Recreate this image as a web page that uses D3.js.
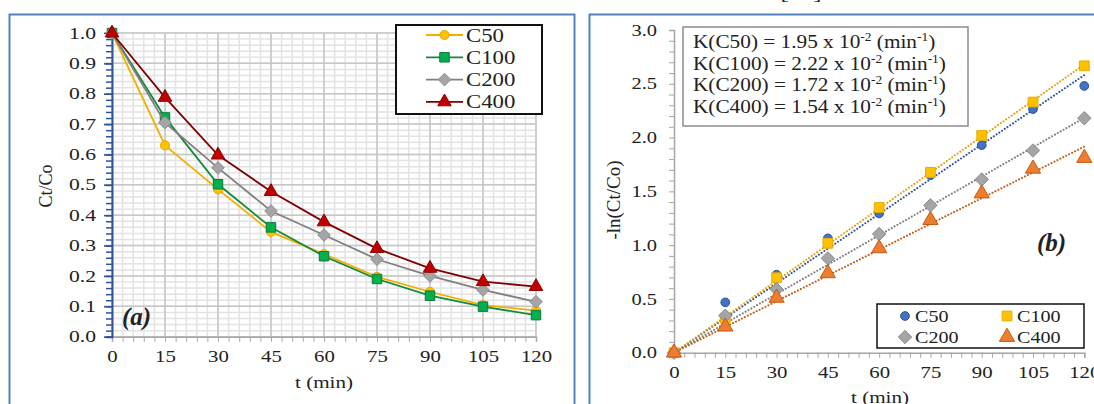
<!DOCTYPE html>
<html lang="en">
<head>
    <meta charset="UTF-8">
    <title>Ct/Co kinetics</title>
    <style>
        body { margin: 0; background: #fff; }
        svg text { font-family: "Liberation Serif", "DejaVu Serif", serif; fill: #222; }
    </style>
</head>
<body>
    <svg width="1094" height="404"></svg>

    <script src="https://cdn.jsdelivr.net/npm/d3@7"></script>
    <script>
        // data
        let times = [0, 15, 30, 45, 60, 75, 90, 105, 120];
        let seriesNames = ["C50", "C100", "C200", "C400"];

        // (a) Ct/Co
        let ctC50  = [1.0, 0.63, 0.485, 0.345, 0.272, 0.197, 0.148, 0.104, 0.086];
        let ctC100 = [1.0, 0.722, 0.502, 0.36, 0.265, 0.19, 0.135, 0.099, 0.071];
        let ctC200 = [1.0, 0.705, 0.556, 0.414, 0.335, 0.255, 0.2, 0.154, 0.115];
        let ctC400 = [1.0, 0.788, 0.598, 0.478, 0.378, 0.29, 0.225, 0.181, 0.165];

        // (b) -ln(Ct/Co)
        let lnC50  = [0, 0.468, 0.725, 1.063, 1.295, 1.65, 1.93, 2.265, 2.48];
        let lnC100 = [0, 0.32, 0.697, 1.017, 1.35, 1.676, 2.02, 2.33, 2.667];
        let lnC200 = [0, 0.344, 0.589, 0.877, 1.103, 1.37, 1.61, 1.88, 2.18];
        let lnC400 = [0, 0.242, 0.51, 0.738, 0.97, 1.233, 1.48, 1.71, 1.81];

        let kLabels = ["1.95", "2.22", "1.72", "1.54"];

        let xTicks = [0, 15, 30, 45, 60, 75, 90, 105, 120];
        let yTicksA = [0, 0.1, 0.2, 0.3, 0.4, 0.5, 0.6, 0.7, 0.8, 0.9, 1.0];
        let yTicksB = [0, 0.5, 1.0, 1.5, 2.0, 2.5, 3.0];

        let svg = d3.select("svg");

        // the source picture is a bit stretched sideways, so widen text the same way
        function stretch(sel, sx) {
            sel.each(function () {
                let t = d3.select(this);
                let x = +t.attr("x") || 0;
                let y = +t.attr("y") || 0;
                t.attr("transform", "translate(" + x + "," + y + ") scale(" + sx + ",1)")
                    .attr("x", 0).attr("y", 0);
            });
        }

        // panel frames
        svg.append("rect").attr("x", 9.5).attr("y", 14.5).attr("width", 565).attr("height", 420)
            .attr("fill", "none").attr("stroke", "#4f81bd").attr("stroke-width", 2);
        svg.append("rect").attr("x", 589.5).attr("y", 14.5).attr("width", 540).attr("height", 420)
            .attr("fill", "none").attr("stroke", "#4f81bd").attr("stroke-width", 2);

        // reference number cut off at the very top
        let ref = svg.append("text").attr("x", 801).attr("y", -1).attr("text-anchor", "middle")
            .style("font-size", "19px").text("[43]");
        stretch(ref, 1.3);

        let diamond = { draw: function (ctx, size) {
            let r = Math.sqrt(size / 2);
            ctx.moveTo(0, -r); ctx.lineTo(r, 0); ctx.lineTo(0, r); ctx.lineTo(-r, 0); ctx.closePath();
        } };

        // ---------------- panel (a) ----------------
        let xa = d3.scaleLinear().domain([0, 120]).range([112, 536]);
        let ya = d3.scaleLinear().domain([0, 1]).range([336.7, 33]);

        let gA = svg.append("g");

        // minor grid
        gA.append("g").selectAll("line").data(d3.range(0, 121, 3)).join("line")
            .attr("x1", d => xa(d)).attr("x2", d => xa(d)).attr("y1", ya(0)).attr("y2", ya(1))
            .attr("stroke", "#e3e3e3").attr("stroke-width", 1.5);
        gA.append("g").selectAll("line").data(d3.range(0, 51).map(d => d * 0.02)).join("line")
            .attr("x1", xa(0)).attr("x2", xa(120)).attr("y1", d => ya(d)).attr("y2", d => ya(d))
            .attr("stroke", "#e3e3e3").attr("stroke-width", 1.5);
        // major grid
        gA.append("g").selectAll("line").data(xTicks).join("line")
            .attr("x1", d => xa(d)).attr("x2", d => xa(d)).attr("y1", ya(0)).attr("y2", ya(1))
            .attr("stroke", "#c6c6c6").attr("stroke-width", 1.5);
        gA.append("g").selectAll("line").data(yTicksA).join("line")
            .attr("x1", xa(0) - 8).attr("x2", xa(120)).attr("y1", d => ya(d)).attr("y2", d => ya(d))
            .attr("stroke", "#c6c6c6").attr("stroke-width", 1.5);

        // x axis (a)
        let xAxisMinorA = gA.append("g").attr("transform", "translate(0," + ya(0) + ")")
            .call(d3.axisBottom(xa).tickValues(d3.range(0, 121, 3)).tickSize(5).tickFormat(""));
        xAxisMinorA.select(".domain").attr("stroke", "#a6a6a6").attr("stroke-width", 1.5);
        xAxisMinorA.selectAll(".tick line").attr("stroke", "#a6a6a6");
        let xAxisA = gA.append("g").attr("transform", "translate(0," + ya(0) + ")")
            .call(d3.axisBottom(xa).tickValues(xTicks).tickSize(0).tickPadding(14));
        xAxisA.select(".domain").remove();
        xAxisA.selectAll("text").style("font-size", "16px").style("font-family", "Liberation Serif").attr("fill", "#222");
        stretch(xAxisA.selectAll("text"), 1.3);

        // y axis (a)
        let yAxisMinorA = gA.append("g").attr("transform", "translate(" + xa(0) + ",0)")
            .call(d3.axisLeft(ya).tickValues(d3.range(0, 51).map(d => d * 0.02)).tickSize(6).tickFormat(""));
        yAxisMinorA.select(".domain").attr("stroke", "#2f5597").attr("stroke-width", 2);
        yAxisMinorA.selectAll(".tick line").attr("stroke", "#2f5597").attr("stroke-width", 1.5);
        let yAxisA = gA.append("g").attr("transform", "translate(" + xa(0) + ",0)")
            .call(d3.axisLeft(ya).tickValues(yTicksA).tickSize(8).tickPadding(8).tickFormat(d3.format(".1f")));
        yAxisA.select(".domain").remove();
        yAxisA.selectAll(".tick line").attr("stroke", "#2f5597").attr("stroke-width", 1.5);
        yAxisA.selectAll("text").style("font-size", "16px").style("font-family", "Liberation Serif").attr("fill", "#222");
        stretch(yAxisA.selectAll("text"), 1.35);

        let tA = gA.append("text").attr("x", 324).attr("y", 388).attr("text-anchor", "middle")
            .style("font-size", "16.5px").text("t (min)");
        stretch(tA, 1.28);
        gA.append("text").attr("transform", "translate(52,186) rotate(-90)").attr("text-anchor", "middle")
            .style("font-size", "18px").text("Ct/Co");

        let styleA = [
            { line: "#f0b000", fill: "#ffc000", stroke: "#e6a800", shape: d3.symbolCircle, size: 64 },
            { line: "#138a3c", fill: "#00b050", stroke: "#0e7a35", shape: d3.symbolSquare, size: 90 },
            { line: "#808080", fill: "#a5a5a5", stroke: "#8c8c8c", shape: diamond, size: 80 },
            { line: "#7f0000", fill: "#c00000", stroke: "#8b0000", shape: d3.symbolTriangle, size: 80 }
        ];
        let dataA = [ctC50, ctC100, ctC200, ctC400];
        let lineA = d3.line().x((d, i) => xa(times[i])).y(d => ya(d));

        dataA.forEach(function (vals, k) {
            let s = styleA[k];
            gA.append("path").attr("d", lineA(vals)).attr("fill", "none")
                .attr("stroke", s.line).attr("stroke-width", 1.8);
            gA.append("g").selectAll("path").data(vals).join("path")
                .attr("transform", (d, i) => "translate(" + xa(times[i]) + "," + ya(d) + ")")
                .attr("d", d3.symbol().type(s.shape).size(s.size))
                .attr("fill", s.fill).attr("stroke", s.stroke).attr("stroke-width", 1);
        });

        // legend (a)
        let legA = gA.append("g");
        legA.append("rect").attr("x", 396).attr("y", 25).attr("width", 146).attr("height", 89)
            .attr("fill", "#fff").attr("stroke", "#111").attr("stroke-width", 2);
        seriesNames.forEach(function (name, k) {
            let s = styleA[k];
            let cy = 35 + k * 22.3;
            legA.append("line").attr("x1", 426).attr("x2", 463).attr("y1", cy).attr("y2", cy)
                .attr("stroke", s.line).attr("stroke-width", 1.8);
            legA.append("path").attr("transform", "translate(444.5," + cy + ")")
                .attr("d", d3.symbol().type(s.shape).size(s.size))
                .attr("fill", s.fill).attr("stroke", s.stroke);
            let lt = legA.append("text").attr("x", 466).attr("y", cy + 6.5).style("font-size", "19px").text(name);
            stretch(lt, 1.2);
        });

        gA.append("text").attr("x", 122).attr("y", 325).style("font-size", "25px")
            .style("font-weight", "bold").style("font-style", "italic").text("(a)");

        // ---------------- panel (b) ----------------
        let xb = d3.scaleLinear().domain([0, 120]).range([674, 1084.3]);
        let yb = d3.scaleLinear().domain([0, 3]).range([352.7, 30]);

        let gB = svg.append("g");

        let xAxisMinorB = gB.append("g").attr("transform", "translate(0," + yb(0) + ")")
            .call(d3.axisBottom(xb).tickValues(d3.range(0, 121, 3)).tickSize(5).tickFormat(""));
        xAxisMinorB.select(".domain").attr("stroke", "#a6a6a6").attr("stroke-width", 1.5);
        xAxisMinorB.selectAll(".tick line").attr("stroke", "#a6a6a6");
        let xAxisB = gB.append("g").attr("transform", "translate(0," + yb(0) + ")")
            .call(d3.axisBottom(xb).tickValues(xTicks).tickSize(0).tickPadding(14));
        xAxisB.select(".domain").remove();
        xAxisB.selectAll("text").style("font-size", "16px").style("font-family", "Liberation Serif").attr("fill", "#222");
        stretch(xAxisB.selectAll("text"), 1.3);

        let yAxisMinorB = gB.append("g").attr("transform", "translate(" + xb(0) + ",0)")
            .call(d3.axisLeft(yb).tickValues(d3.range(0, 31).map(d => d * 0.1)).tickSize(5).tickFormat(""));
        yAxisMinorB.select(".domain").attr("stroke", "#a6a6a6").attr("stroke-width", 1.5);
        yAxisMinorB.selectAll(".tick line").attr("stroke", "#a6a6a6");
        let yAxisB = gB.append("g").attr("transform", "translate(" + xb(0) + ",0)")
            .call(d3.axisLeft(yb).tickValues(yTicksB).tickSize(0).tickPadding(17).tickFormat(d3.format(".1f")));
        yAxisB.select(".domain").remove();
        yAxisB.selectAll("text").style("font-size", "16px").style("font-family", "Liberation Serif").attr("fill", "#222");
        stretch(yAxisB.selectAll("text"), 1.28);

        let tB = gB.append("text").attr("x", 880).attr("y", 403).attr("text-anchor", "middle")
            .style("font-size", "16.5px").text("t (min)");
        stretch(tB, 1.28);
        gB.append("text").attr("transform", "translate(620,200) rotate(-90)").attr("text-anchor", "middle")
            .style("font-size", "19px").text("-ln(Ct/Co)");

        let styleB = [
            { line: "#2f5597", fill: "#4472c4", stroke: "#2f528f", shape: d3.symbolCircle, size: 60 },
            { line: "#e6a000", fill: "#ffc000", stroke: "#e6ac00", shape: d3.symbolSquare, size: 95 },
            { line: "#7f7f7f", fill: "#a5a5a5", stroke: "#8c8c8c", shape: diamond, size: 90 },
            { line: "#c55a11", fill: "#ed7d31", stroke: "#c55a11", shape: d3.symbolTriangle, size: 100 }
        ];
        let dataB = [lnC50, lnC100, lnC200, lnC400];

        // linear trend lines through the origin (least squares)
        dataB.forEach(function (vals, k) {
            let sxy = d3.sum(vals, (d, i) => d * times[i]);
            let sxx = d3.sum(times, d => d * d);
            let slope = sxy / sxx;
            gB.append("line").attr("x1", xb(0)).attr("y1", yb(0))
                .attr("x2", xb(120)).attr("y2", yb(slope * 120))
                .attr("stroke", styleB[k].line).attr("stroke-width", 2)
                .attr("stroke-dasharray", "0.1,3.2").attr("stroke-linecap", "round");
        });

        dataB.forEach(function (vals, k) {
            let s = styleB[k];
            gB.append("g").selectAll("path").data(vals).join("path")
                .attr("transform", (d, i) => "translate(" + xb(times[i]) + "," + yb(d) + ")")
                .attr("d", d3.symbol().type(s.shape).size(s.size))
                .attr("fill", s.fill).attr("stroke", s.stroke).attr("stroke-width", 1);
        });

        // rate constant box
        gB.append("rect").attr("x", 683).attr("y", 27).attr("width", 285).attr("height", 99)
            .attr("fill", "#fff").attr("stroke", "#8c8c8c").attr("stroke-width", 1.5);
        seriesNames.forEach(function (name, k) {
            let t = gB.append("text").attr("x", 693).attr("y", 48 + k * 21.7).style("font-size", "19px");
            t.append("tspan").text("K(" + name + ") = " + kLabels[k] + " x 10");
            t.append("tspan").attr("dy", -7).style("font-size", "12px").text("-2");
            t.append("tspan").attr("dy", 7).text(" (min");
            t.append("tspan").attr("dy", -7).style("font-size", "12px").text("-1");
            t.append("tspan").attr("dy", 7).text(")");
            stretch(t, 1.12);
        });

        // legend (b)
        let legB = gB.append("g");
        legB.append("rect").attr("x", 877).attr("y", 304).attr("width", 207).attr("height", 44)
            .attr("fill", "#fff").attr("stroke", "#111").attr("stroke-width", 1.5);
        seriesNames.forEach(function (name, k) {
            let s = styleB[k];
            let cx = k % 2 === 0 ? 905 : 1007;
            let cy = k < 2 ? 316 : 337;
            legB.append("path").attr("transform", "translate(" + cx + "," + cy + ")")
                .attr("d", d3.symbol().type(s.shape).size(s.size))
                .attr("fill", s.fill).attr("stroke", s.stroke);
            let lt = legB.append("text").attr("x", cx + 10).attr("y", cy + 6).style("font-size", "16.5px").text(name);
            stretch(lt, 1.22);
        });

        gB.append("text").attr("x", 1037).attr("y", 251).style("font-size", "25px")
            .style("font-weight", "bold").style("font-style", "italic").text("(b)");
    </script>
</body>
</html>
